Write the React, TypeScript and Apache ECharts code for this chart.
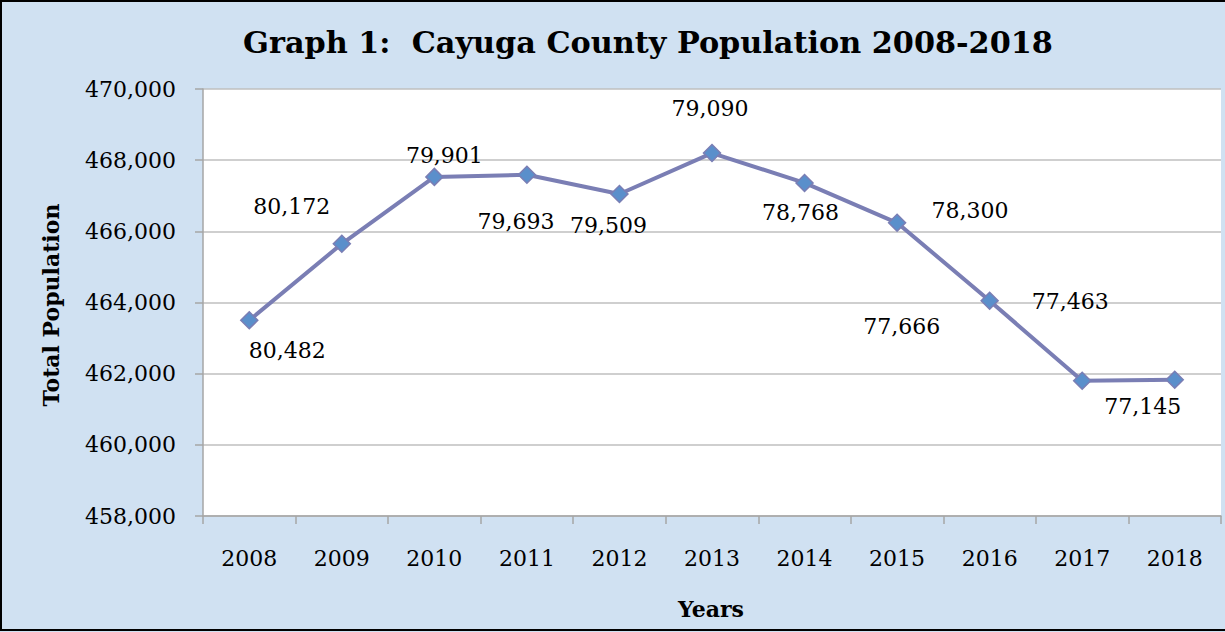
import React, { useEffect, useRef } from "react";
import * as echarts from "echarts";

const years = ["2008", "2009", "2010", "2011", "2012", "2013", "2014", "2015", "2016", "2017", "2018"];
// plotted positions
const plotted = [463500, 465650, 467530, 467590, 467050, 468200, 467360, 466240, 464050, 461800, 461830];
// data label texts shown next to each point
const pointLabels = ["80,482", "80,172", "79,901", "79,693", "79,509", "79,090", "78,768", "78,300", "77,666", "77,463", "77,145"];
// label offsets (style)
const labelOffsets: [number, number][] = [
  [38, 30], [-50, -37], [10, -21], [-11, 47], [-11, 32], [-2, -45], [-4, 30], [73, -12], [-88, 26], [-12, -79], [-32, 27],
];

const FONT = "'DejaVu Serif', 'Liberation Serif', serif";

export default function App() {
  const ref = useRef<HTMLDivElement>(null);
  useEffect(() => {
    if (!ref.current) return;
    const chart = echarts.init(ref.current, undefined, { renderer: "svg" });
    chart.setOption({
      animation: false,
      backgroundColor: "#D0E1F2",
      title: {
        text: "Graph 1:  Cayuga County Population 2008-2018",
        left: 643,
        top: 22,
        textAlign: "center",
        textStyle: { fontFamily: FONT, fontWeight: "bold", fontSize: 30.3, color: "#000" },
      },
      grid: { left: 203, right: 4, top: 89, bottom: 116, show: true, backgroundColor: "#fff", borderWidth: 0 },
      xAxis: {
        type: "category",
        data: years,
        boundaryGap: true,
        axisLine: { lineStyle: { color: "#A6A6A6", width: 1.5 } },
        axisTick: { show: true, length: 8, lineStyle: { color: "#A6A6A6", width: 1.5 } },
        axisLabel: { fontFamily: FONT, fontSize: 22, color: "#000", margin: 31 },
        splitLine: { show: false },
      },
      yAxis: {
        type: "value",
        min: 458000,
        max: 470000,
        interval: 2000,
        axisLine: { show: true, lineStyle: { color: "#A6A6A6", width: 1.5 } },
        axisTick: { show: true, length: 8, lineStyle: { color: "#A6A6A6", width: 1.5 } },
        axisLabel: {
          fontFamily: FONT,
          fontSize: 22,
          color: "#000",
          margin: 27,
          formatter: (v: number) => v.toLocaleString("en-US"),
        },
        splitLine: { show: true, lineStyle: { color: "#BFBFBF", width: 1.5 } },
      },
      graphic: [
        {
          type: "text",
          rotation: Math.PI / 2,
          x: 51,
          y: 305,
          style: {
            text: "Total Population",
            fontFamily: FONT,
            fontWeight: "bold",
            fontSize: 22,
            fill: "#000",
            align: "center",
            verticalAlign: "middle",
          },
        },
        {
          type: "text",
          x: 711,
          y: 609,
          style: {
            text: "Years",
            fontFamily: FONT,
            fontWeight: "bold",
            fontSize: 22,
            fill: "#000",
            align: "center",
            verticalAlign: "middle",
          },
        },
        {
          type: "rect",
          shape: { x: 1, y: 1, width: 1240, height: 629 },
          style: { fill: "none", stroke: "#000", lineWidth: 2 },
          silent: true,
        },
      ],
      series: [
        {
          type: "line",
          data: plotted.map((v, i) => ({
            value: v,
            label: {
              show: true,
              position: "inside",
              offset: labelOffsets[i],
              formatter: () => pointLabels[i],
            },
          })),
          symbol: "diamond",
          symbolSize: 17,
          lineStyle: { color: "#7A7EB4", width: 4 },
          itemStyle: { color: "#5A8FCB", borderColor: "#7A7EB4", borderWidth: 1.5 },
          label: {
            show: true,
            fontFamily: FONT,
            fontSize: 22,
            color: "#000",
            align: "center",
            verticalAlign: "middle",
          },
          z: 3,
        },
      ],
    });
    return () => chart.dispose();
  }, []);
  return <div ref={ref} style={{ position: "absolute", left: 0, top: 0, width: 1225, height: 632 }} />;
}
